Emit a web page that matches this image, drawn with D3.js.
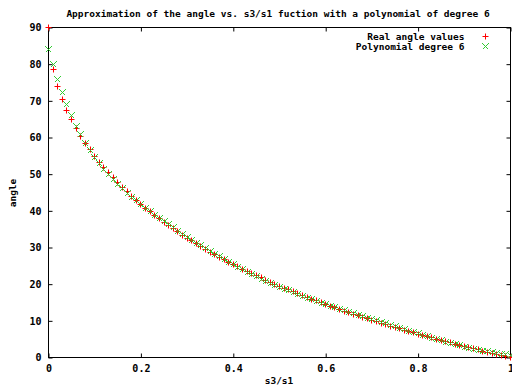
<!DOCTYPE html>
<html>
<head>
<meta charset="utf-8">
<script src="https://cdn.jsdelivr.net/npm/d3@7"></script>
<style>
  body { margin: 0; background: #fff; }
  text { font-family: "DejaVu Sans Mono", monospace; font-weight: bold; font-size: 9.5px; fill: #000; }
</style>
</head>
<body>
<div id="chart"></div>
<script>
const ratio = [0, 0.01, 0.02, 0.03, 0.04, 0.05, 0.06, 0.07, 0.08, 0.09,
  0.10, 0.11, 0.12, 0.13, 0.14, 0.15, 0.16, 0.17, 0.18, 0.19,
  0.20, 0.21, 0.22, 0.23, 0.24, 0.25, 0.26, 0.27, 0.28, 0.29,
  0.30, 0.31, 0.32, 0.33, 0.34, 0.35, 0.36, 0.37, 0.38, 0.39,
  0.40, 0.41, 0.42, 0.43, 0.44, 0.45, 0.46, 0.47, 0.48, 0.49,
  0.50, 0.51, 0.52, 0.53, 0.54, 0.55, 0.56, 0.57, 0.58, 0.59,
  0.60, 0.61, 0.62, 0.63, 0.64, 0.65, 0.66, 0.67, 0.68, 0.69,
  0.70, 0.71, 0.72, 0.73, 0.74, 0.75, 0.76, 0.77, 0.78, 0.79,
  0.80, 0.81, 0.82, 0.83, 0.84, 0.85, 0.86, 0.87, 0.88, 0.89,
  0.90, 0.91, 0.92, 0.93, 0.94, 0.95, 0.96, 0.97, 0.98, 0.99, 1.00];

// real angle values
const realAngle = [90, 78.58, 73.90, 70.35, 67.38, 64.79, 62.47, 60.36, 58.41, 56.60,
  54.90, 53.31, 51.79, 50.35, 48.97, 47.66, 46.40, 45.19, 44.02, 42.90,
  41.81, 40.76, 39.74, 38.76, 37.80, 36.87, 35.97, 35.08, 34.23, 33.39,
  32.58, 31.78, 31.00, 30.25, 29.51, 28.77, 28.07, 27.38, 26.69, 26.03,
  25.37, 24.73, 24.11, 23.49, 22.88, 22.29, 21.71, 21.13, 20.56, 20.02,
  19.47, 18.94, 18.41, 17.89, 17.38, 16.87, 16.38, 15.90, 15.41, 14.94,
  14.48, 14.02, 13.57, 13.11, 12.68, 12.25, 11.82, 11.39, 10.97, 10.56,
  10.16, 9.76, 9.37, 8.97, 8.58, 8.21, 7.84, 7.46, 7.09, 6.73,
  6.38, 6.03, 5.67, 5.33, 4.98, 4.64, 4.29, 3.99, 3.66, 3.33,
  3.01, 2.69, 2.37, 2.08, 1.77, 1.47, 1.16, 0.86, 0.56, 0.29, 0];

// polynomial degree 6
const polyAngle = [84.0, 79.9, 75.7, 72.2, 69.0, 65.9, 63.1, 60.7, 58.4, 56.4,
  54.55, 52.85, 51.3, 49.85, 48.45, 47.2, 46.0, 44.85, 43.7, 42.7,
  41.7, 40.75, 39.8, 38.85, 37.95, 37.05, 36.2, 35.35, 34.5, 33.65,
  32.85, 32.0, 31.2, 30.45, 29.65, 28.9, 28.15, 27.45, 26.7, 26.0,
  25.25, 24.6, 23.9, 23.25, 22.65, 22.0, 21.4, 20.85, 20.25, 19.7,
  19.15, 18.65, 18.15, 17.65, 17.15, 16.65, 16.2, 15.75, 15.3, 14.85,
  14.45, 14.0, 13.6, 13.15, 12.8, 12.35, 11.95, 11.55, 11.15, 10.75,
  10.4, 10.0, 9.6, 9.2, 8.8, 8.4, 8.0, 7.6, 7.2, 6.85,
  6.45, 6.05, 5.65, 5.3, 4.9, 4.55, 4.15, 3.85, 3.5, 3.2,
  2.85, 2.55, 2.25, 2.0, 1.75, 1.5, 1.3, 1.05, 0.85, 0.75, 0.6];

const xTicks = [0, 0.2, 0.4, 0.6, 0.8, 1];
const xTickLabels = ["0", "0.2", "0.4", "0.6", "0.8", "1"];
const yTicks = [0, 10, 20, 30, 40, 50, 60, 70, 80, 90];
const seriesNames = ["Real angle values", "Polynomial degree 6"];

const width = 512, height = 389;
const plotL = 48.5, plotR = 510.5, plotT = 27.5, plotB = 357.5;
const red = "#ff0000", green = "#33cc33";

const svg = d3.select("#chart").append("svg")
  .attr("width", width)
  .attr("height", height);

svg.append("rect").attr("width", width).attr("height", height).attr("fill", "#fff");

const x = d3.scaleLinear().domain([0, 1]).range([plotL, plotR]);
const y = d3.scaleLinear().domain([0, 90]).range([plotB, plotT]);
const snap = v => Math.round(v - 0.5) + 0.5;

// axes, ticks pointing inward like gnuplot
svg.append("g")
  .attr("transform", "translate(0," + plotB + ")")
  .call(d3.axisBottom(x).tickValues(xTicks).tickFormat((d, i) => xTickLabels[i])
    .tickSizeInner(-4).tickSizeOuter(0).tickPadding(7));
svg.append("g")
  .attr("transform", "translate(0," + plotT + ")")
  .call(d3.axisTop(x).tickValues(xTicks).tickFormat("").tickSizeInner(-4).tickSizeOuter(0));
svg.append("g")
  .attr("transform", "translate(" + plotL + ",0)")
  .call(d3.axisLeft(y).tickValues(yTicks).tickSizeInner(-4).tickSizeOuter(0).tickPadding(7));
svg.append("g")
  .attr("transform", "translate(" + plotR + ",0)")
  .call(d3.axisRight(y).tickValues(yTicks).tickFormat("").tickSizeInner(-4).tickSizeOuter(0));

svg.selectAll(".domain").remove();
svg.selectAll(".tick line").attr("stroke", "#000");
svg.selectAll(".tick text").attr("font-family", null).attr("font-size", null).attr("fill", null)
  .style("font-size", "10px");
svg.selectAll("g").attr("font-family", null).attr("font-size", null);

svg.append("rect")
  .attr("x", plotL).attr("y", plotT)
  .attr("width", plotR - plotL).attr("height", plotB - plotT)
  .attr("fill", "none").attr("stroke", "#000");

// points
const plus = "M-3,0H3M0,-3V3";
const cross = "M-3,-3L3,3M-3,3L3,-3";

svg.append("g").selectAll("path")
  .data(ratio)
  .enter().append("path")
    .attr("d", plus)
    .attr("transform", (d, i) => "translate(" + snap(x(d)) + "," + snap(y(realAngle[i])) + ")")
    .attr("stroke", red).attr("fill", "none");

svg.append("g").selectAll("path")
  .data(ratio)
  .enter().append("path")
    .attr("d", cross)
    .attr("transform", (d, i) => "translate(" + snap(x(d)) + "," + snap(y(polyAngle[i])) + ")")
    .attr("stroke", green).attr("shape-rendering", "crispEdges").attr("fill", "none");

// legend
const legend = svg.append("g");
legend.selectAll("text")
  .data(seriesNames)
  .enter().append("text")
    .attr("x", 464.5)
    .attr("y", (d, i) => 40 + i * 10)
    .attr("text-anchor", "end")
    .text(d => d);
legend.append("path").attr("d", plus).attr("transform", "translate(485.5,36.5)")
  .attr("stroke", red).attr("fill", "none");
legend.append("path").attr("d", cross).attr("transform", "translate(485.5,46.5)")
  .attr("stroke", green).attr("shape-rendering", "crispEdges").attr("fill", "none");

// titles
svg.append("text")
  .attr("x", 278).attr("y", 16.5)
  .attr("text-anchor", "middle")
  .text("Approximation of the angle vs. s3/s1 fuction with a polynomial of degree 6");
svg.append("text")
  .attr("x", 279).attr("y", 384)
  .attr("text-anchor", "middle")
  .text("s3/s1");
svg.append("text")
  .attr("transform", "translate(16,193) rotate(-90)")
  .attr("text-anchor", "middle")
  .text("angle");
</script>
</body>
</html>
